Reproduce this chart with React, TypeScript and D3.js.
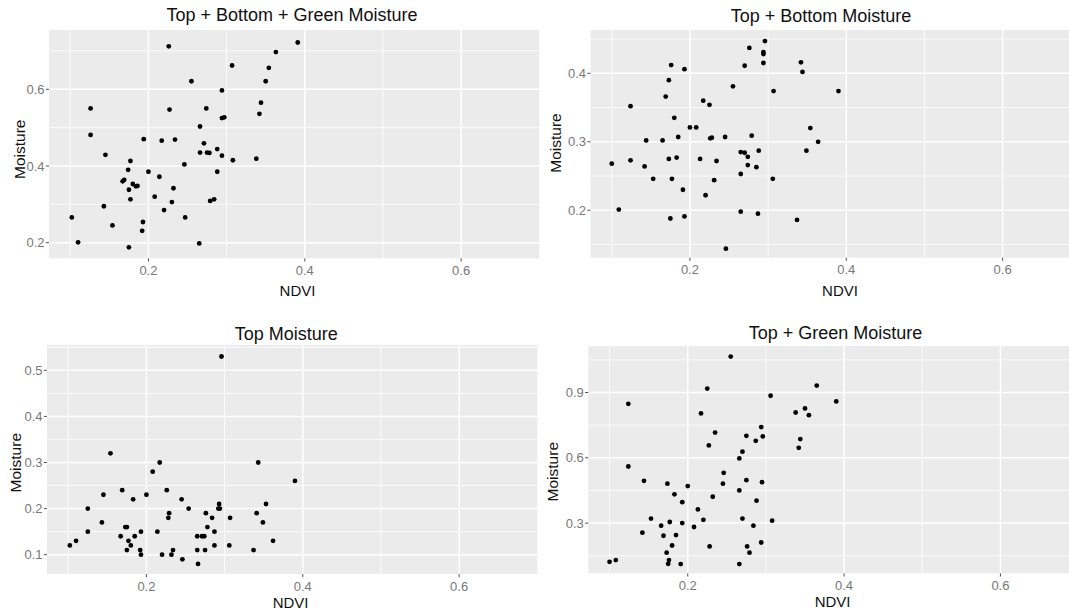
import React from "react";
import * as d3 from "d3";

// ---- Data (NDVI, Moisture) ----
const tbgNdvi = [0.226,0.391,0.363,0.307,0.354,0.255,0.350,0.294,0.344,0.126,0.227,0.274,0.342,0.294,0.297,0.266,0.126,0.194,0.217,0.234,0.271,0.266,0.275,0.278,0.288,0.294,0.145,0.308,0.338,0.177,0.246,0.174,0.200,0.288,0.214,0.167,0.169,0.180,0.184,0.186,0.232,0.175,0.208,0.177,0.230,0.279,0.284,0.143,0.220,0.102,0.247,0.154,0.193,0.192,0.110,0.265,0.175];
const tbgMoist = [0.712,0.722,0.697,0.662,0.656,0.621,0.621,0.597,0.565,0.550,0.547,0.550,0.536,0.525,0.527,0.503,0.481,0.470,0.466,0.469,0.459,0.435,0.435,0.434,0.444,0.427,0.429,0.415,0.419,0.413,0.404,0.390,0.385,0.385,0.372,0.360,0.364,0.353,0.347,0.348,0.342,0.338,0.320,0.313,0.306,0.309,0.313,0.295,0.285,0.266,0.266,0.245,0.254,0.231,0.201,0.198,0.188];

const tbNdvi = [0.296,0.276,0.294,0.294,0.294,0.270,0.176,0.193,0.342,0.344,0.173,0.255,0.307,0.390,0.169,0.124,0.217,0.225,0.180,0.200,0.208,0.354,0.364,0.144,0.165,0.185,0.226,0.228,0.245,0.279,0.349,0.288,0.265,0.270,0.274,0.100,0.124,0.173,0.183,0.213,0.234,0.142,0.274,0.285,0.265,0.153,0.177,0.231,0.306,0.191,0.220,0.109,0.265,0.287,0.175,0.193,0.337,0.246];
const tbMoist = [0.447,0.437,0.431,0.428,0.415,0.411,0.412,0.406,0.416,0.402,0.390,0.381,0.374,0.374,0.366,0.352,0.360,0.354,0.335,0.321,0.321,0.320,0.300,0.302,0.302,0.307,0.305,0.306,0.307,0.309,0.287,0.287,0.285,0.284,0.278,0.268,0.273,0.275,0.277,0.275,0.272,0.264,0.266,0.263,0.253,0.246,0.246,0.244,0.246,0.230,0.222,0.201,0.198,0.195,0.188,0.191,0.186,0.144];

const tNdvi = [0.296,0.154,0.217,0.343,0.208,0.390,0.169,0.226,0.145,0.200,0.183,0.245,0.293,0.353,0.125,0.254,0.292,0.294,0.229,0.276,0.341,0.228,0.284,0.307,0.143,0.349,0.173,0.175,0.278,0.125,0.193,0.214,0.287,0.167,0.185,0.265,0.271,0.274,0.110,0.177,0.362,0.102,0.180,0.287,0.306,0.175,0.192,0.234,0.265,0.275,0.337,0.193,0.220,0.232,0.246,0.266];
const tMoist = [0.53,0.32,0.30,0.30,0.28,0.26,0.24,0.24,0.23,0.23,0.22,0.22,0.21,0.21,0.20,0.20,0.20,0.20,0.19,0.19,0.19,0.18,0.18,0.18,0.17,0.17,0.16,0.16,0.16,0.15,0.15,0.15,0.15,0.14,0.14,0.14,0.14,0.14,0.13,0.13,0.13,0.12,0.12,0.12,0.12,0.11,0.11,0.11,0.11,0.11,0.11,0.10,0.10,0.10,0.09,0.08];

const tgNdvi = [0.255,0.225,0.365,0.306,0.390,0.124,0.350,0.217,0.338,0.355,0.294,0.235,0.275,0.296,0.287,0.344,0.227,0.342,0.270,0.266,0.124,0.246,0.144,0.174,0.245,0.275,0.295,0.200,0.183,0.266,0.232,0.193,0.288,0.213,0.153,0.220,0.270,0.308,0.177,0.193,0.166,0.208,0.284,0.142,0.169,0.185,0.294,0.180,0.228,0.276,0.173,0.279,0.100,0.108,0.176,0.175,0.191,0.266];
const tgMoist = [1.065,0.918,0.932,0.885,0.859,0.848,0.827,0.804,0.808,0.796,0.741,0.716,0.701,0.698,0.678,0.686,0.657,0.646,0.628,0.597,0.560,0.531,0.494,0.481,0.481,0.497,0.488,0.470,0.432,0.450,0.421,0.396,0.403,0.363,0.321,0.315,0.321,0.311,0.305,0.300,0.288,0.282,0.288,0.256,0.242,0.245,0.211,0.197,0.193,0.193,0.164,0.164,0.122,0.130,0.130,0.113,0.112,0.112];

const titles = ["Top + Bottom + Green Moisture", "Top + Bottom Moisture", "Top Moisture", "Top + Green Moisture"];
const xTicks = [0.2, 0.4, 0.6];
const yTicks1 = [0.2, 0.4, 0.6];
const yTicks2 = [0.2, 0.3, 0.4];
const yTicks3 = [0.1, 0.2, 0.3, 0.4, 0.5];
const yTicks4 = [0.3, 0.6, 0.9];

// ---- Layout ----
const W = 1069, H = 613;
const PW = 490.3;
const xDomain = [0.0728, 0.7];
const panels = [
  { xs: tbgNdvi, ys: tbgMoist, title: titles[0], yTicks: yTicks1,
    left: 49, top: 30, bottom: 258.3, yDom: [0.1593, 0.7546],
    titleX: 292, titleY: 21, xlabX: 297.5, xlabY: 296, ylabX: 24.5, ylabY: 149.3 },
  { xs: tbNdvi, ys: tbMoist, title: titles[1], yTicks: yTicks2,
    left: 590.5, top: 30, bottom: 257.7, yDom: [0.1308, 0.4632],
    titleX: 821, titleY: 22, xlabX: 840, xlabY: 296, ylabX: 561, ylabY: 143 },
  { xs: tNdvi, ys: tMoist, title: titles[2], yTicks: yTicks3,
    left: 47, top: 345, bottom: 574, yDom: [0.0581, 0.5549],
    titleX: 286.3, titleY: 340, xlabX: 290.6, xlabY: 607.5, ylabX: 21.3, ylabY: 462.7 },
  { xs: tgNdvi, ys: tgMoist, title: titles[3], yTicks: yTicks4,
    left: 588.3, top: 346, bottom: 573.3, yDom: [0.0694, 1.1136],
    titleX: 835.5, titleY: 338.5, xlabX: 832.6, xlabY: 606.7, ylabX: 557.5, ylabY: 471.7 },
];

const FONT = "'Liberation Sans', Arial, Helvetica, sans-serif";
const TICK_COLOR = "#777";

function minors(majors: number[], dom: number[]) {
  const step = majors[1] - majors[0];
  const out: number[] = [];
  for (let i = -1; i < majors.length; i++) {
    const m = (i < 0 ? majors[0] - step : majors[i]) + step / 2;
    if (m > dom[0] && m < dom[1]) out.push(+m.toFixed(4));
  }
  return out;
}

function Panel({ p }: { p: typeof panels[number] }) {
  const x = d3.scaleLinear().domain(xDomain).range([p.left, p.left + PW]);
  const y = d3.scaleLinear().domain(p.yDom).range([p.bottom, p.top]);
  const xMin = minors(xTicks, xDomain);
  const yMin = minors(p.yTicks, p.yDom);
  const clipId = "clip" + Math.round(p.left) + "_" + Math.round(p.top);
  return (
    <g>
      <defs>
        <clipPath id={clipId}>
          <rect x={p.left} y={p.top} width={PW} height={p.bottom - p.top} />
        </clipPath>
      </defs>
      <rect x={p.left} y={p.top} width={PW} height={p.bottom - p.top} fill="#ebebeb" />
      <g clipPath={`url(#${clipId})`}>
        {yMin.map((v) => (
          <line key={"ym" + v} x1={p.left} x2={p.left + PW} y1={y(v)} y2={y(v)} stroke="#fff" strokeWidth={0.8} />
        ))}
        {xMin.map((v) => (
          <line key={"xm" + v} x1={x(v)} x2={x(v)} y1={p.top} y2={p.bottom} stroke="#fff" strokeWidth={0.8} />
        ))}
        {p.yTicks.map((v) => (
          <line key={"yM" + v} x1={p.left} x2={p.left + PW} y1={y(v)} y2={y(v)} stroke="#fff" strokeWidth={1.5} />
        ))}
        {xTicks.map((v) => (
          <line key={"xM" + v} x1={x(v)} x2={x(v)} y1={p.top} y2={p.bottom} stroke="#fff" strokeWidth={1.5} />
        ))}
        {p.xs.map((v, i) => (
          <circle key={"pt" + i} cx={x(v)} cy={y(p.ys[i])} r={2.4} fill="#000" />
        ))}
      </g>
      {p.yTicks.map((v) => (
        <g key={"yt" + v}>
          <line x1={p.left - 3.2} x2={p.left} y1={y(v)} y2={y(v)} stroke="#555" strokeWidth={1} />
          <text x={p.left - 4.5} y={y(v)} dy="0.36em" textAnchor="end" fontSize={13} fill={TICK_COLOR} fontFamily={FONT}>
            {v.toFixed(1)}
          </text>
        </g>
      ))}
      {xTicks.map((v) => (
        <g key={"xt" + v}>
          <line x1={x(v)} x2={x(v)} y1={p.bottom} y2={p.bottom + 3.2} stroke="#555" strokeWidth={1} />
          <text x={x(v)} y={p.bottom + 16.7} textAnchor="middle" fontSize={13} fill={TICK_COLOR} fontFamily={FONT}>
            {v.toFixed(1)}
          </text>
        </g>
      ))}
      <text x={p.titleX} y={p.titleY} textAnchor="middle" fontSize={18} fill="#111" fontFamily={FONT}>
        {p.title}
      </text>
      <text x={p.xlabX} y={p.xlabY} textAnchor="middle" fontSize={15} fill="#111" fontFamily={FONT}>
        NDVI
      </text>
      <text
        transform={`translate(${p.ylabX},${p.ylabY}) rotate(-90)`}
        textAnchor="middle"
        fontSize={15.5}
        fill="#111"
        fontFamily={FONT}
      >
        Moisture
      </text>
    </g>
  );
}

export default function App() {
  return (
    <svg
      width={W}
      height={H}
      viewBox={`0 0 ${W} ${H}`}
      style={{ position: "absolute", left: 0, top: 0, background: "#fff" }}
    >
      <rect x={0} y={0} width={W} height={H} fill="#fff" />
      {panels.map((p, i) => (
        <Panel key={i} p={p} />
      ))}
    </svg>
  );
}
